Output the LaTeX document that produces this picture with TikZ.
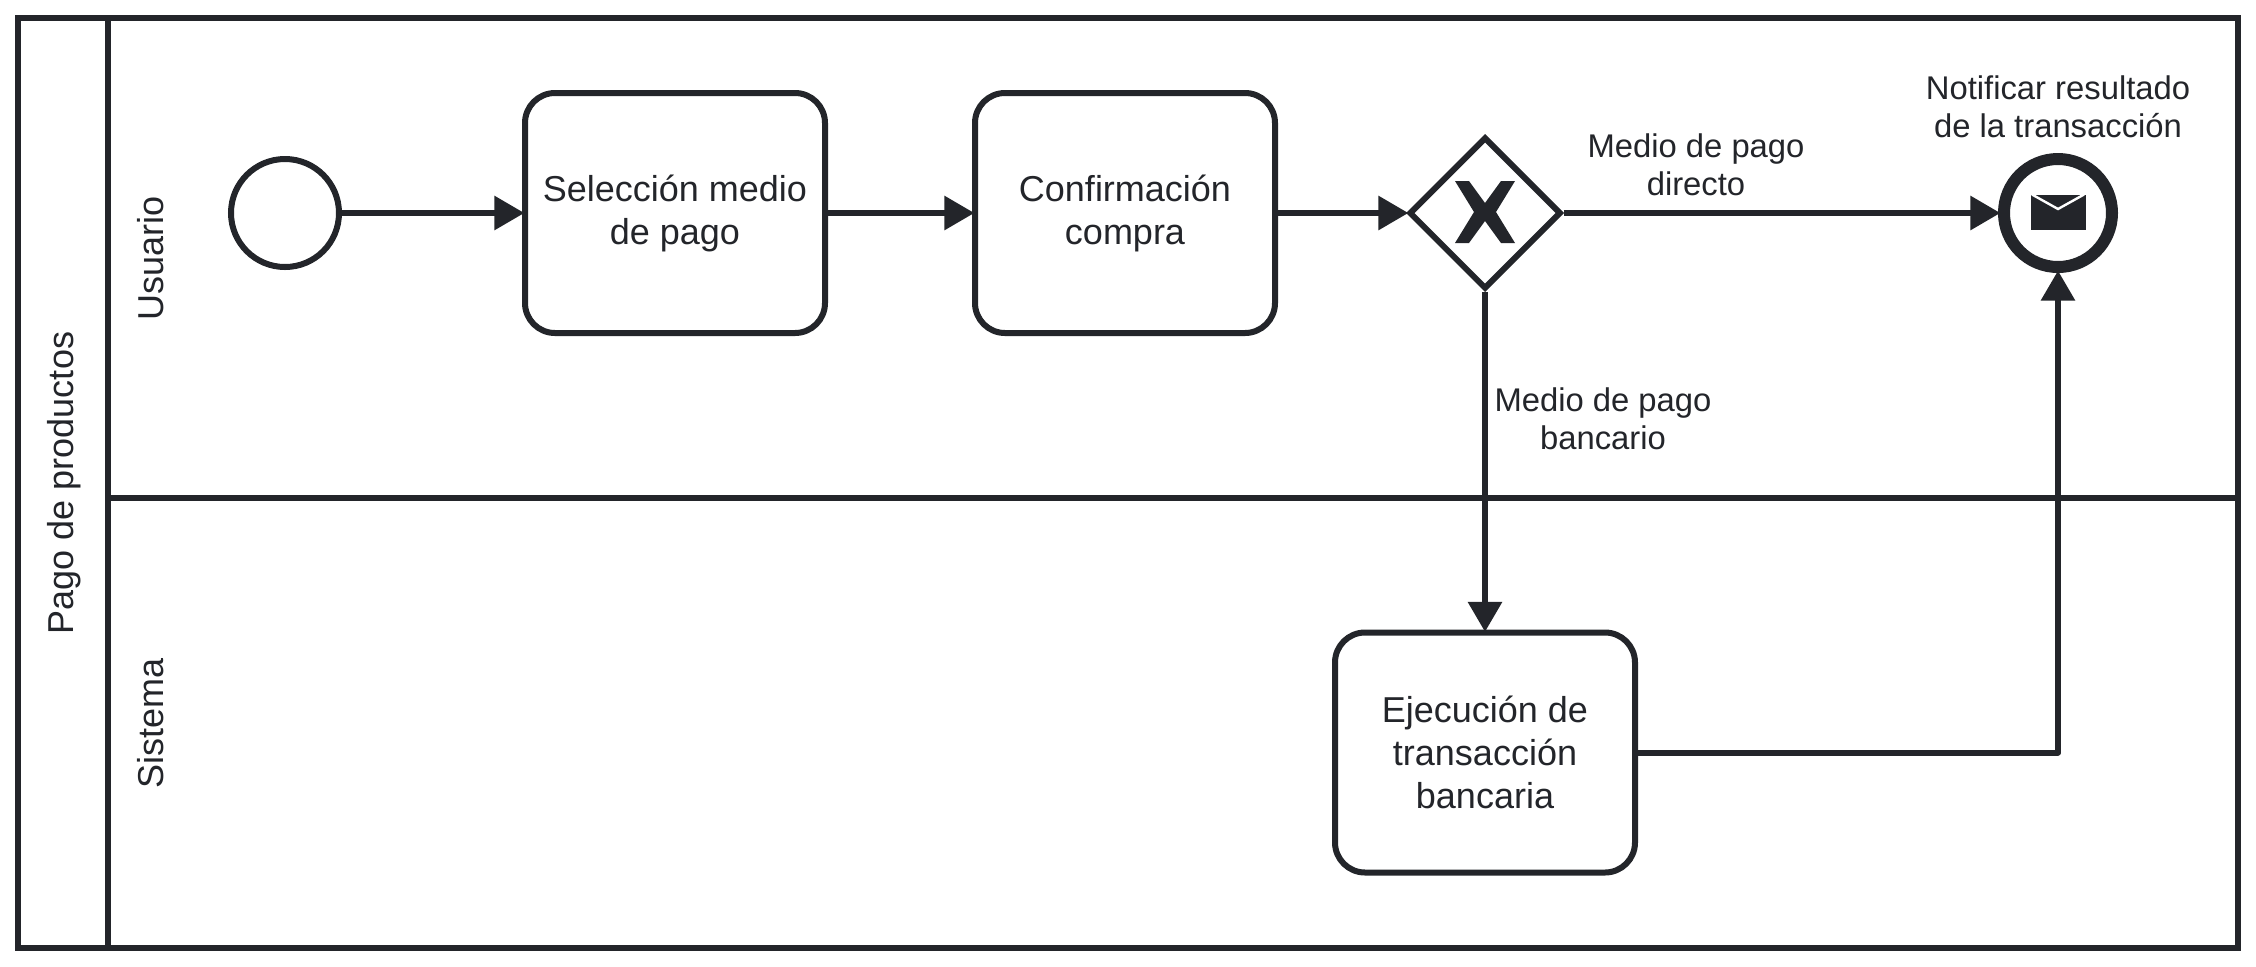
\documentclass[tikz,border=0pt]{standalone}
\usepackage{fontspec}
\setmainfont{Liberation Sans}
\usetikzlibrary{arrows.meta,shapes.geometric}
\definecolor{ink}{RGB}{35,37,42}
\tikzset{
  px/.style={x=0.5pt,y=-0.5pt},
  stroke/.style={draw=ink,line width=3pt},
  task/.style={stroke,fill=white,rounded corners=15pt,minimum width=150pt,minimum height=120pt,inner sep=0pt,align=center,text=ink,font=\fontsize{18}{21.5}\selectfont},
  startev/.style={stroke,fill=white,circle,minimum size=54pt,inner sep=0pt},
  endev/.style={draw=ink,line width=6pt,fill=white,circle,minimum size=54pt,inner sep=0pt},
  gateway/.style={stroke,fill=white,diamond,minimum width=76pt,minimum height=76pt,inner sep=0pt},
  flow/.style={draw=ink,line width=3pt,line join=round,shorten >=-1.2pt,-{Triangle[length=15pt,width=16.5pt]}},
  label/.style={text=ink,align=center,inner sep=0pt,font=\fontsize{16.4}{19}\selectfont},
  lanelabel/.style={text=ink,rotate=90,inner sep=0pt,font=\fontsize{18}{21.5}\selectfont}
}
\begin{document}
\begin{tikzpicture}[px]
\useasboundingbox (0,0) rectangle (2256,966);
\fill[white] (0,0) rectangle (2256,966);
% pool and lanes
\coordinate (tl) at (18,18);
\coordinate (br) at (2238,948);
\coordinate (headT) at (108,18);
\coordinate (headB) at (108,948);
\coordinate (laneL) at (108,498);
\coordinate (laneR) at (2238,498);
\draw[stroke] (tl) rectangle (br);
\draw[stroke] (headT) -- (headB);
\draw[stroke] (laneL) -- (laneR);
\node[lanelabel] (pool) at (64,483) {Pago de productos};
\node[lanelabel] (usuario) at (151,258) {Usuario};
\node[lanelabel] (sistema) at (151,723) {Sistema};
% elements
\node[startev] (start) at (285,213) {};
\node[task] (t1) at (675,213) {Selección medio\\de pago};
\node[task] (t2) at (1125,213) {Confirmación\\compra};
\node[gateway] (gw) at (1485,213) {};
\node[endev] (end) at (2058,213) {};
\node[task] (t3) at (1485,752.5) {Ejecución de\\transacción\\bancaria};
% gateway X
\fill[ink] (1485-30,212-31) -- (1485-16,212-31) -- (1485,212-9) -- (1485+16,212-31) -- (1485+30,212-31)
  -- (1485+11,212) -- (1485+30,212+31) -- (1485+16,212+31) -- (1485,212+9) -- (1485-16,212+31)
  -- (1485-30,212+31) -- (1485-11,212) -- cycle;
% envelope
\fill[ink] (2058-27.5,194.5) rectangle (2058+27.5,229.5);
\draw[white,line width=1.2pt] (2058-26,194.5) -- (2058,209) -- (2058+26,194.5);
% flows
\draw[flow] (start) -- (t1);
\draw[flow] (t1) -- (t2);
\draw[flow] (t2) -- (gw);
\draw[flow] (gw) -- (end);
\draw[flow] (gw) -- (t3);
\draw[flow] (t3.east) -| (end.south);
% labels
\node[label] (lnotif) at (2058,107) {Notificar resultado\\de la transacción};
\node[label] (ldirecto) at (1696,165) {Medio de pago\\directo};
\node[label] (lbanc) at (1603,419) {Medio de pago\\bancario};
\end{tikzpicture}
\end{document}
